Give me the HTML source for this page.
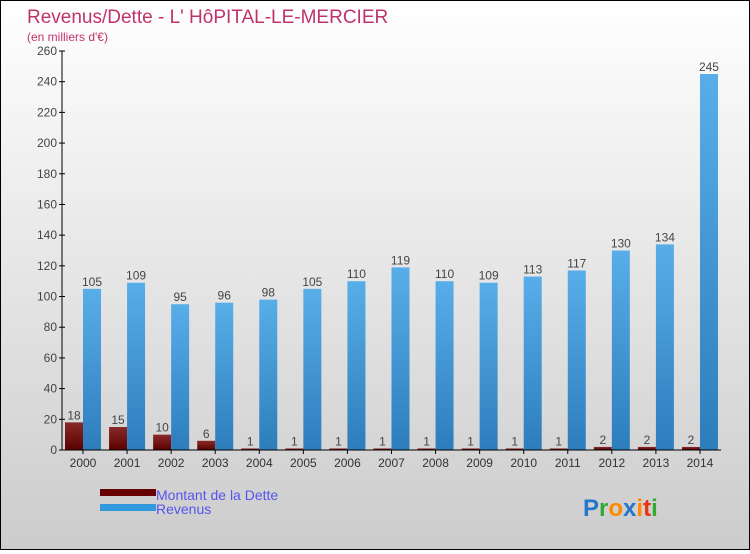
<!DOCTYPE html>
<html><head><meta charset="utf-8"><style>
body{margin:0;width:750px;height:550px;overflow:hidden;font-family:"Liberation Sans",sans-serif}
#c{position:relative;width:748px;height:548px;border:1px solid #000;background:linear-gradient(#ffffff,#cccccc)}
</style></head><body>
<div id="c">
<svg id="s" width="748" height="548" xmlns="http://www.w3.org/2000/svg">
<defs>
<linearGradient id="gb" x1="0" y1="0" x2="0" y2="1"><stop offset="0" stop-color="#58aee8"/><stop offset="1" stop-color="#2d7dbc"/></linearGradient>
<linearGradient id="gd" x1="0" y1="0" x2="0" y2="1"><stop offset="0" stop-color="#8a2a2a"/><stop offset="1" stop-color="#5a0000"/></linearGradient>
</defs>
<text x="26" y="22" font-size="19" fill="#c0336a">Revenus/Dette - L' HôPITAL-LE-MERCIER</text>
<text x="26" y="40" font-size="12" fill="#c0336a">(en milliers d'€)</text>
<g id="g"></g>
<rect x="99" y="488" width="56" height="7" fill="#660000"/>
<rect x="99" y="503" width="56" height="7" fill="#3399dd"/>
<text x="155" y="499" font-size="14" fill="#5555ee">Montant de la Dette</text>
<text x="155" y="513" font-size="14" fill="#5555ee">Revenus</text>
<text x="582" y="515" font-size="24" font-weight="bold"><tspan fill="#2277cc">P</tspan><tspan fill="#33aa33">r</tspan><tspan fill="#ff8800">o</tspan><tspan fill="#2277cc">x</tspan><tspan fill="#ff8800">i</tspan><tspan fill="#ee3311">t</tspan><tspan fill="#33aa33">i</tspan></text>
</svg></div>
<script>
const years=["2000","2001","2002","2003","2004","2005","2006","2007","2008","2009","2010","2011","2012","2013","2014"];
const dette=[18,15,10,6,1,1,1,1,1,1,1,1,2,2,2];
const revenus=[105,109,95,96,98,105,110,119,110,109,113,117,130,134,245];
const yTicks=[0,20,40,60,80,100,120,140,160,180,200,220,240,260];
const NS="http://www.w3.org/2000/svg";
const g=document.getElementById('g');
const y=v=>449-v*399/260;
const x=i=>82+i*44.07;
function mk(t,a,txt){const e=document.createElementNS(NS,t);for(const k in a)e.setAttribute(k,a[k]);if(txt!==undefined)e.textContent=txt;g.appendChild(e);return e;}
yTicks.forEach(v=>{
 const t=mk('text',{x:56,y:y(v)+4,'font-size':12,fill:'#444','text-anchor':'end'},v);
 
 
 const l=mk('line',{x1:58,x2:64,y1:y(v),y2:y(v),stroke:'#000'});
 
 
});
years.forEach((yr,i)=>{
 const cx=x(i);
 const d=mk('rect',{x:cx-18,y:y(dette[i]),width:18,height:449-y(dette[i]),fill:'url(#gd)'});
 
 
 const r=mk('rect',{x:cx,y:y(revenus[i]),width:18,height:449-y(revenus[i]),fill:'url(#gb)'});
 
 
 const dl=mk('text',{x:cx-9,y:y(dette[i])-3,'font-size':12,fill:'#444','text-anchor':'middle'},dette[i]);
 
 
 const rl=mk('text',{x:cx+9,y:y(revenus[i])-3,'font-size':12,fill:'#444','text-anchor':'middle'},revenus[i]);
 
 
 const xl=mk('text',{x:cx,y:466,'font-size':12,fill:'#333','text-anchor':'middle'},yr);
 
 
 const tk=mk('line',{x1:cx,x2:cx,y1:449,y2:453,stroke:'#000'});
 
 
});
const ya=mk('line',{x1:61,x2:61,y1:y(260),y2:449,stroke:'#000'});


const xa=mk('line',{x1:61,x2:720,y1:449,y2:449,stroke:'#000'});


</script>
</body></html>
